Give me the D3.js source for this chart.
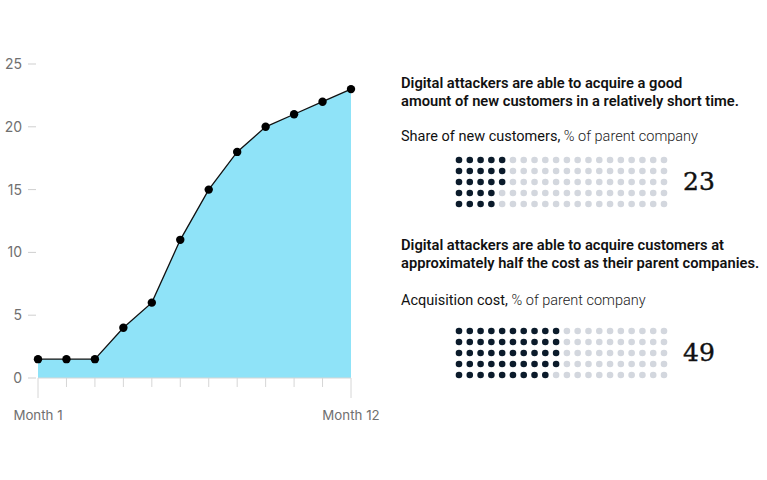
<!DOCTYPE html>
<html><head><meta charset="utf-8">
<script src="https://cdn.jsdelivr.net/npm/d3@7"></script>
<style>
body{margin:0;background:#fff;}
svg{display:block;}
.sans{font-family:Roboto,Inter,"Liberation Sans",sans-serif;}
.ax{font-family:Inter,Roboto,"Liberation Sans",sans-serif;}
.serif{font-family:"DejaVu Serif","Liberation Serif",serif;}
</style></head>
<body><svg id="c" width="767" height="480"></svg>
<script>
const months = [1,2,3,4,5,6,7,8,9,10,11,12];
const values = [1.5,1.5,1.5,4,6,11,15,18,20,21,22,23];
const yTicks = [0,5,10,15,20,25];
const xLabels = ["Month 1","Month 12"];
const panelTitles = [
  ["Digital attackers are able to acquire a good","amount of new customers in a relatively short time."],
  ["Digital attackers are able to acquire customers at","approximately half the cost as their parent companies."]
];
const panelSubBold = ["Share of new customers,","Acquisition cost,"];
const panelSubLight = ["% of parent company","% of parent company"];
const panelValues = [23,49];

const svg = d3.select("#c");
const x = d3.scaleLinear().domain([1,12]).range([38,351]);
const y = d3.scaleLinear().domain([0,25]).range([378,64]);

// y axis ticks
const yg = svg.append("g");
yTicks.forEach(t=>{
  yg.append("line").attr("x1",28).attr("x2",36).attr("y1",y(t)).attr("y2",y(t)).attr("stroke","#cfcfcf").attr("stroke-width",1);
  yg.append("text").attr("class","ax").attr("x",22).attr("y",y(t)).attr("dy","0.35em").attr("text-anchor","end")
    .attr("font-size",14).attr("fill","#707070").text(t);
});

// area
svg.append("path").datum(months.map((m,i)=>[m,values[i]]))
  .attr("fill","#8fe3f8")
  .attr("d",d3.area().x(d=>x(d[0])).y0(y(0)).y1(d=>y(d[1])));
// baseline
svg.append("line").attr("x1",x(1)).attr("x2",x(12)).attr("y1",y(0)).attr("y2",y(0)).attr("stroke","#d6d6d6");
// x ticks
months.forEach(m=>{
  const long = (m===1||m===12);
  svg.append("line").attr("x1",x(m)).attr("x2",x(m)).attr("y1",y(0)).attr("y2",y(0)+(long?20:9))
    .attr("stroke","#d6d6d6");
});
svg.append("text").attr("class","ax").attr("x",x(1)).attr("y",415).attr("dy","0.35em").attr("text-anchor","middle").attr("font-size",13.3).attr("fill","#707070").text(xLabels[0]);
svg.append("text").attr("class","ax").attr("x",x(12)).attr("y",415).attr("dy","0.35em").attr("text-anchor","middle").attr("font-size",13.3).attr("fill","#707070").text(xLabels[1]);

// line
svg.append("path").datum(months.map((m,i)=>[m,values[i]]))
  .attr("fill","none").attr("stroke","#111").attr("stroke-width",1.3)
  .attr("d",d3.line().x(d=>x(d[0])).y(d=>y(d[1])));
svg.selectAll("circle.pt").data(months).enter().append("circle").attr("class","pt")
  .attr("cx",m=>x(m)).attr("cy",(m,i)=>y(values[i])).attr("r",4.2).attr("fill","#000");

// right panels
const titleBase = [88,250];
const subBase = [141,305];
const gridTop = [160,331];
panelTitles.forEach((lines,p)=>{
  const g = svg.append("g");
  lines.forEach((l,i)=>{
    g.append("text").attr("class","sans").attr("x",401).attr("y",titleBase[p]+i*17.5).attr("font-size",14.7).attr("font-weight",600).attr("fill","#111").text(l);
  });
  const st = g.append("text").attr("class","sans").attr("x",401).attr("y",subBase[p]).attr("font-size",14.5).attr("fill","#111");
  st.append("tspan").attr("font-weight",400).text(panelSubBold[p]+" ");
  st.append("tspan").attr("font-weight",300).attr("fill","#222").text(panelSubLight[p]);

  const gy0 = gridTop[p];
  const gx = d3.scaleLinear().domain([0,19]).range([459,664]);
  const gy = d3.scaleLinear().domain([0,4]).range([gy0,gy0+44]);
  const cells = d3.range(100).map(i=>({c:Math.floor(i/5),r:i%5,on:i<panelValues[p]}));
  g.selectAll("circle").data(cells).enter().append("circle")
    .attr("cx",d=>gx(d.c)).attr("cy",d=>gy(d.r)).attr("r",3.3)
    .attr("fill",d=>d.on?"#0b1b2b":"#d3d7de");
  g.append("text").attr("class","serif").attr("x",683).attr("y",gy0+30)
    .attr("font-size",25).attr("fill","#111").attr("stroke","#111").attr("stroke-width",0.4).text(panelValues[p]);
});
</script></body></html>
